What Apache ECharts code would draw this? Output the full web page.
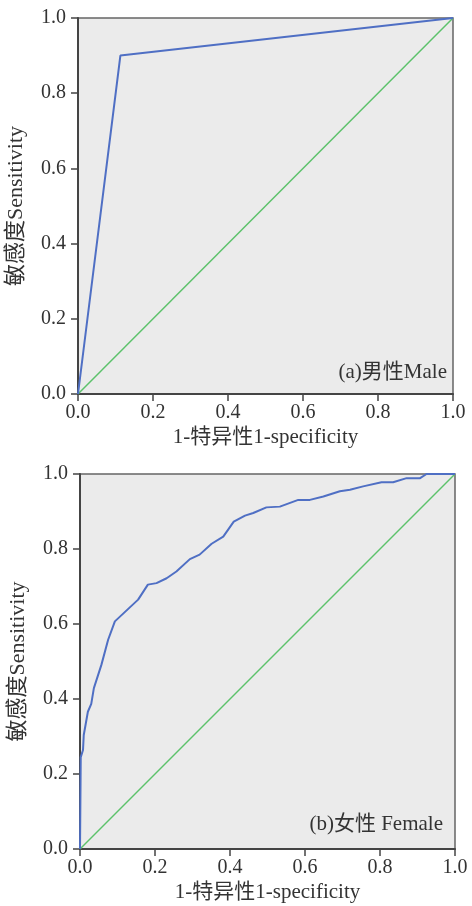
<!DOCTYPE html>
<html>
<head>
<meta charset="utf-8">
<title>ROC</title>
<script src="https://cdn.jsdelivr.net/npm/echarts@6/dist/echarts.min.js"></script>
<style>
  html, body { margin: 0; padding: 0; background: #fff; }
  #chart { width: 472px; height: 906px; }
</style>
</head>
<body>
<div id="chart"></div>
<script type="text/javascript">
// ROC data
var maleX = [0, 0.113, 1];
var maleY = [0, 0.90, 1];

var femaleX = [0, 0.002, 0.002, 0.008, 0.010, 0.021, 0.030, 0.037, 0.057, 0.075, 0.093,
    0.155, 0.181, 0.204, 0.231, 0.257, 0.293, 0.319, 0.351, 0.382, 0.410,
    0.440, 0.462, 0.497, 0.533, 0.582, 0.613, 0.649, 0.693, 0.720, 0.755,
    0.804, 0.835, 0.871, 0.907, 0.924, 1];
var femaleY = [0, 0.0, 0.245, 0.264, 0.304, 0.366, 0.387, 0.429, 0.491, 0.558, 0.607,
    0.665, 0.705, 0.709, 0.722, 0.740, 0.773, 0.785, 0.814, 0.833, 0.873,
    0.889, 0.896, 0.911, 0.913, 0.931, 0.931, 0.940, 0.954, 0.958, 0.967,
    0.978, 0.978, 0.989, 0.989, 1.0, 1.0];

var refX = [0, 1];
var refY = [0, 1];

var xName = '1-特异性1-specificity';
var yName = '敏感度Sensitivity';
var panelLabels = ['(a)男性Male', '(b)女性 Female'];

function pairs(xs, ys) {
    var out = [];
    for (var i = 0; i < xs.length; i++) out.push([xs[i], ys[i]]);
    return out;
}

var font = '"Liberation Serif", "Noto Sans CJK SC", serif';
var textColor = '#333';

function makeAxis(isX, idx) {
    return {
        type: 'value',
        gridIndex: idx,
        min: 0, max: 1, interval: 0.2,
        name: isX ? xName : yName,
        nameLocation: 'middle',
        nameGap: isX ? 33 : 51,
        nameTextStyle: { fontFamily: font, fontSize: isX ? 21 : 22, color: textColor },
        axisLine: { show: true, onZero: false, lineStyle: { color: '#444', width: 2 } },
        axisTick: { show: true, length: 7, lineStyle: { color: '#444', width: 1.5 } },
        axisLabel: {
            fontFamily: font, fontSize: 20, color: textColor,
            margin: isX ? 9 : 12,
            formatter: function (v) { return v.toFixed(1); }
        },
        splitLine: { show: false }
    };
}

var myChart = echarts.init(document.getElementById('chart'));

var option = {
    animation: false,
    grid: [
        { left: 78, right: 19, top: 18, height: 376, show: true, outerBoundsMode: 'none',
          backgroundColor: '#ebebeb', borderColor: '#666', borderWidth: 1.5 },
        { left: 80, right: 17, top: 474, height: 375, show: true, outerBoundsMode: 'none',
          backgroundColor: '#ebebeb', borderColor: '#666', borderWidth: 1.5 }
    ],
    xAxis: [makeAxis(true, 0), makeAxis(true, 1)],
    yAxis: [makeAxis(false, 0), makeAxis(false, 1)],
    graphic: [
        { type: 'text', right: 25, top: 362,
          style: { text: panelLabels[0], fontFamily: font, fontSize: 21, fill: textColor } },
        { type: 'text', right: 29, top: 814,
          style: { text: panelLabels[1], fontFamily: font, fontSize: 21, fill: textColor } }
    ],
    series: [
        { type: 'line', xAxisIndex: 0, yAxisIndex: 0, data: pairs(refX, refY),
          symbol: 'none', lineStyle: { color: '#5cc26b', width: 1.5 } },
        { type: 'line', xAxisIndex: 0, yAxisIndex: 0, data: pairs(maleX, maleY),
          symbol: 'none', lineStyle: { color: '#4f6fc4', width: 2 } },
        { type: 'line', xAxisIndex: 1, yAxisIndex: 1, data: pairs(refX, refY),
          symbol: 'none', lineStyle: { color: '#5cc26b', width: 1.5 } },
        { type: 'line', xAxisIndex: 1, yAxisIndex: 1, data: pairs(femaleX, femaleY),
          symbol: 'none', lineStyle: { color: '#4f6fc4', width: 2 } }
    ]
};

myChart.setOption(option);
</script>
</body>
</html>
